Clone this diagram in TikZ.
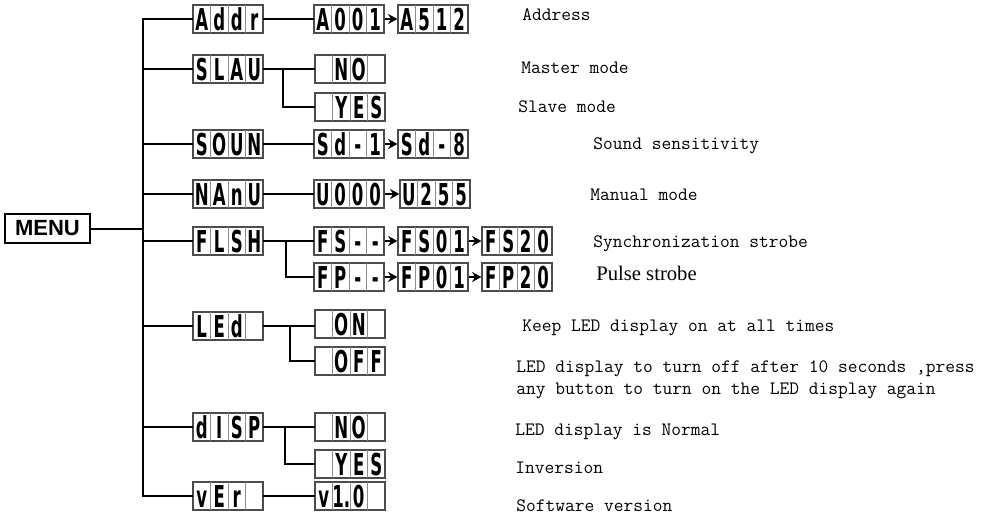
\documentclass[tikz,border=0pt]{standalone}
\usepackage{fontspec}
\usetikzlibrary{arrows.meta}
\newfontfamily\segfont[FakeStretch=0.55]{DejaVu Sans Bold}
\newfontfamily\menufont{Liberation Sans}
\newfontfamily\pulsefont{Liberation Serif}
\tikzset{
  dbox/.style={draw=black!70, line width=0.9pt, minimum width=52.5pt, minimum height=21pt, inner sep=0pt},
  cellsep/.style={draw=black!45, line width=0.6pt},
  dchar/.style={anchor=base, inner sep=0pt, font=\segfont\fontsize{22.6}{22.6}\selectfont},
  conn/.style={line width=1.5pt, line cap=rect},
  trunkline/.style={line width=2.2pt, line cap=rect},
  stepar/.style={line width=1.5pt, -{Stealth[length=7pt,width=7.5pt]}},
  desc/.style={anchor=base west, inner sep=0pt, font=\ttfamily\fontsize{14.2}{16.5}\selectfont, align=left},
  menubox/.style={draw, line width=1.5pt, minimum width=63.75pt, minimum height=21.75pt, inner sep=0pt, font=\menufont\bfseries\fontsize{16.5}{16.5}\selectfont}
}
\newcommand\segch[3]{\if\relax\detokenize{#3}\relax\else\node[dchar] at (#1,#2) {#3};\fi}
\newcommand\dispbox[7]{%
  \node[dbox] (#1) at (#2,#3) {};
  \draw[cellsep] ({#2-17.5},{#3-14}) -- ({#2-17.5},{#3+14});
  \draw[cellsep] (#2,{#3-14}) -- (#2,{#3+14});
  \draw[cellsep] ({#2+17.5},{#3-14}) -- ({#2+17.5},{#3+14});
  \segch{#2-26.25}{#3+11}{#4}
  \segch{#2-8.75}{#3+11}{#5}
  \segch{#2+8.75}{#3+11}{#6}
  \segch{#2+26.25}{#3+11}{#7}
}
\begin{document}
\begin{tikzpicture}[x=0.75pt, y=-0.75pt]
\useasboundingbox (0,0) rectangle (995,521);
\fill[white] (0,0) rectangle (995,521);

% MENU
\node[menubox] (menu) at (47.5,228.5) {MENU};

% first level
\dispbox{addr}{228}{19}{A}{d}{d}{r}
\dispbox{slau}{228}{69}{S}{L}{A}{U}
\dispbox{soun}{228}{144}{S}{O}{U}{N}
\dispbox{manu}{228}{194}{N}{A}{n}{U}
\dispbox{flsh}{228}{241}{F}{L}{S}{H}
\dispbox{led}{228}{326}{L}{E}{d}{}
\dispbox{disp}{228}{427}{d}{I}{S}{P}
\dispbox{ver}{228}{496}{v}{E}{r}{}

% second level
\dispbox{a001}{349}{19}{A}{0}{0}{1}
\dispbox{a512}{433}{19}{A}{5}{1}{2}
\dispbox{slno}{350}{69}{}{N}{O}{}
\dispbox{slyes}{350}{107}{}{Y}{E}{S}
\dispbox{sd1}{349}{144}{S}{d}{-}{1}
\dispbox{sd8}{433}{144}{S}{d}{-}{8}
\dispbox{u000}{349}{194}{U}{0}{0}{0}
\dispbox{u255}{435}{194}{U}{2}{5}{5}
\dispbox{fsdash}{349}{241}{F}{S}{-}{-}
\dispbox{fs01}{433}{241}{F}{S}{0}{1}
\dispbox{fs20}{517}{241}{F}{S}{2}{0}
\dispbox{fpdash}{349}{277}{F}{P}{-}{-}
\dispbox{fp01}{433}{277}{F}{P}{0}{1}
\dispbox{fp20}{517}{277}{F}{P}{2}{0}
\dispbox{ledon}{350}{324}{}{O}{N}{}
\dispbox{ledoff}{350}{361}{}{O}{F}{F}
\dispbox{dino}{350}{427}{}{N}{O}{}
\dispbox{diyes}{350}{464}{}{Y}{E}{S}
\dispbox{v10}{350}{496}{v}{1.}{0}{}

% trunk
\coordinate (ttop) at (143,19);
\coordinate (tbot) at (143,496);
\draw[trunkline] (ttop) -- (tbot);
\draw[conn] (menu.east) -- (menu.east -| ttop);
\foreach \n in {addr,slau,soun,manu,flsh,led,disp,ver}
  \draw[conn] (\n.west -| ttop) -- (\n.west);

% straight connections
\draw[conn] (addr.east) -- (a001.west);
\draw[conn] (soun.east) -- (sd1.west);
\draw[conn] (manu.east) -- (u000.west);
\draw[conn] (ver.east) -- (v10.west);
\draw[conn] (slau.east) -- (slno.west);
\draw[conn] (flsh.east) -- (fsdash.west);
\draw[conn] (led.east) -- (ledon.west |- led.east);
\draw[conn] (disp.east) -- (dino.west);

% branches
\coordinate (bslau) at (283,69);
\draw[trunkline] (bslau) -- (bslau |- slyes.west);
\draw[conn] (bslau |- slyes.west) -- (slyes.west);
\coordinate (bflsh) at (286,241);
\draw[trunkline] (bflsh) -- (bflsh |- fpdash.west);
\draw[conn] (bflsh |- fpdash.west) -- (fpdash.west);
\coordinate (bled) at (290,326);
\draw[trunkline] (bled) -- (bled |- ledoff.west);
\draw[conn] (bled |- ledoff.west) -- (ledoff.west);
\coordinate (bdisp) at (285,427);
\draw[trunkline] (bdisp) -- (bdisp |- diyes.west);
\draw[conn] (bdisp |- diyes.west) -- (diyes.west);

% arrows
\draw[stepar] (a001.east) -- (a512.west);
\draw[stepar] (sd1.east) -- (sd8.west);
\draw[stepar] (u000.east) -- (u255.west);
\draw[stepar] (fsdash.east) -- (fs01.west);
\draw[stepar] (fs01.east) -- (fs20.west);
\draw[stepar] (fpdash.east) -- (fp01.west);
\draw[stepar] (fp01.east) -- (fp20.west);

% descriptions
\node[desc] (t1) at (522,20) {Address};
\node[desc] (t2) at (521,73) {Master mode};
\node[desc] (t3) at (518,112) {Slave mode};
\node[desc] (t4) at (593,149) {Sound sensitivity};
\node[desc] (t5) at (590,200) {Manual mode};
\node[desc] (t6) at (593,247) {Synchronization strobe};
\node[anchor=base west, inner sep=0pt, font=\pulsefont\fontsize{15.5}{15.5}\selectfont] (t7) at (596,280) {Pulse strobe};
\node[desc] (t8) at (522,331) {Keep LED display on at all times};
\node[desc] (t9) at (516,394) {LED display to turn off after 10 seconds ,press\\any button to turn on the LED display again};
\node[desc] (t10) at (515,435) {LED display is Normal};
\node[desc] (t11) at (515,473) {Inversion};
\node[desc] (t12) at (516,511) {Software version};
\end{tikzpicture}
\end{document}
